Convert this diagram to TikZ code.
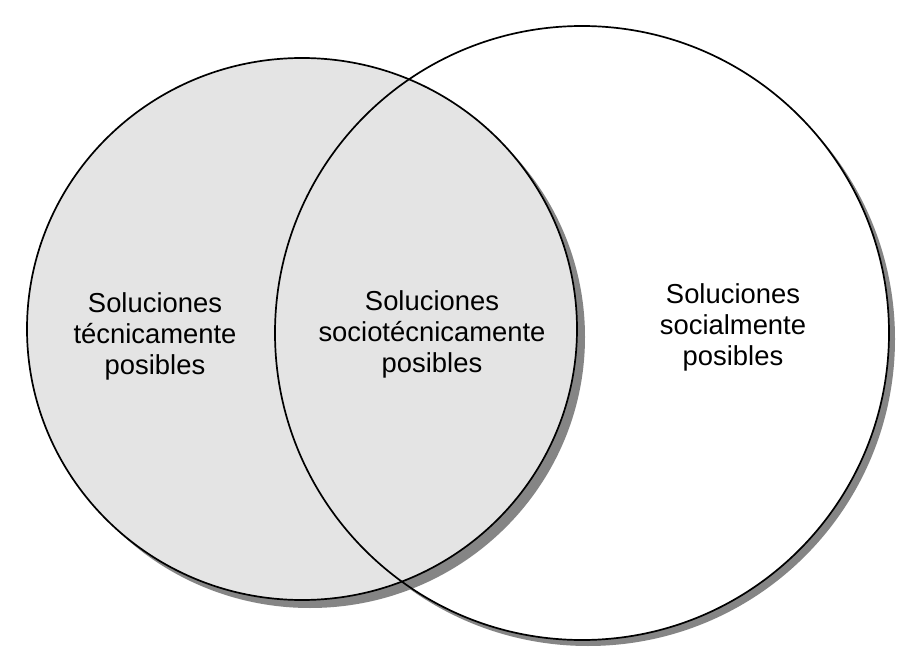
\documentclass[tikz,border=0pt]{standalone}
\usepackage{fontspec}
\setmainfont{Liberation Sans}
\definecolor{shadowgray}{HTML}{858585}
\definecolor{discgray}{HTML}{E4E4E4}
\tikzset{
  outline/.style={draw=black,line width=1.7pt},
  label/.style={align=center,inner sep=0pt,font=\fontsize{27.4}{31}\selectfont}
}
\begin{document}
\begin{tikzpicture}[x=1pt,y=-1pt]
\useasboundingbox (0,0) rectangle (922,666);
\fill[white] (0,0) rectangle (922,666);
\coordinate (L) at (302,329);
\coordinate (R) at (582,333);
% right disc with shadow
\fill[shadowgray] ([shift={(6,6)}]R) circle (307);
\fill[white] (R) circle (307);
% left disc with shadow
\fill[shadowgray] ([shift={(8,8)}]L) ellipse [x radius=275,y radius=271];
\fill[discgray] (L) ellipse [x radius=275,y radius=271];
% outlines
\draw[outline] (L) ellipse [x radius=275,y radius=271];
\draw[outline] (R) circle (307);
% labels
\node[label] (tec) at (155,336) {Soluciones\\técnicamente\\posibles};
\node[label] (socio) at (432,334) {Soluciones\\sociotécnicamente\\posibles};
\node[label] (soc) at (733,327) {Soluciones\\socialmente\\posibles};
\end{tikzpicture}
\end{document}
